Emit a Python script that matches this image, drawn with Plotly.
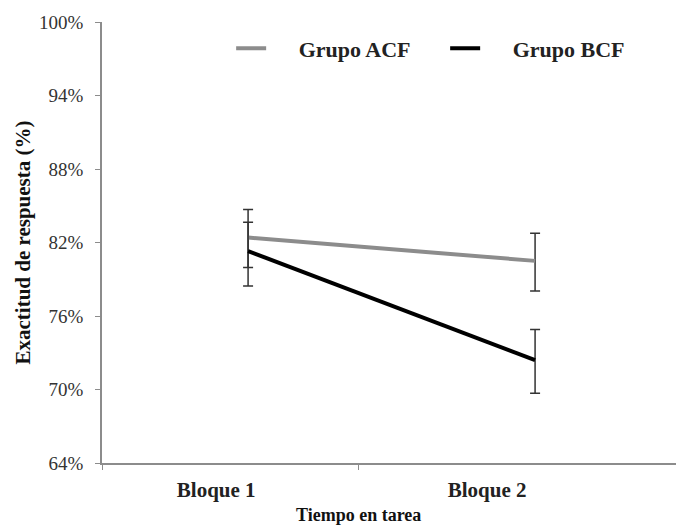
import plotly.graph_objects as go

categories = ["Bloque 1", "Bloque 2"]
x_pos = [1, 2]
acf_vals = [82.4, 80.5]
acf_err_plus = [2.3, 2.25]
acf_err_minus = [2.45, 2.45]
bcf_vals = [81.3, 72.4]
bcf_err_plus = [2.35, 2.5]
bcf_err_minus = [2.85, 2.7]
y_ticks = [64, 70, 76, 82, 88, 94, 100]
y_tick_labels = ["%d%%" % v for v in y_ticks]
label_pos = [0.889, 1.833]
minor_marks = [0.491, 1.383]

font = "Liberation Serif"
pad = "&nbsp;" * 5
fig = go.Figure()
fig.add_trace(go.Scatter(
    x=x_pos, y=acf_vals, mode="lines", name=pad + "<b>Grupo ACF</b>",
    line=dict(color="#8c8c8c", width=4),
    error_y=dict(type="data", symmetric=False, array=acf_err_plus, arrayminus=acf_err_minus,
                 color="#333333", thickness=1.5, width=5),
))
fig.add_trace(go.Scatter(
    x=x_pos, y=bcf_vals, mode="lines", name=pad + "<b>Grupo BCF</b>",
    line=dict(color="#000000", width=4),
    error_y=dict(type="data", symmetric=False, array=bcf_err_plus, arrayminus=bcf_err_minus,
                 color="#333333", thickness=1.5, width=5),
))
fig.add_annotation(
    x=minor_marks[1], xref="x", y=-0.118, yref="paper", yanchor="middle",
    text="<b>Tiempo en tarea</b>", showarrow=False,
    font=dict(family=font, size=18, color="#111"),
)
fig.update_layout(
    width=676, height=526,
    margin=dict(l=102, r=0, t=22, b=63, autoexpand=False),
    paper_bgcolor="white", plot_bgcolor="white",
    font=dict(family=font, color="#000"),
    showlegend=True,
    legend=dict(orientation="h", x=0.225, y=0.94, xanchor="left", yanchor="middle",
                font=dict(family=font, size=22, color="#222"),
                entrywidth=169, entrywidthmode="pixels",
                bgcolor="rgba(0,0,0,0)"),
    xaxis=dict(
        range=[0.491, 2.491], showgrid=False, zeroline=False,
        showline=True, linecolor="#8c8c8c", linewidth=1.5,
        tickvals=label_pos, ticktext=["<b>%s</b>" % c for c in categories],
        ticks="", tickfont=dict(family=font, size=21, color="#222"), ticklabelstandoff=7,
        minor=dict(tickvals=minor_marks, ticks="outside", ticklen=5, tickcolor="#8c8c8c", tickwidth=1),
    ),
    yaxis=dict(
        range=[64, 100], tickvals=y_ticks, ticktext=y_tick_labels, showgrid=False, zeroline=False,
        showline=True, linecolor="#8c8c8c", linewidth=1.5,
        ticks="outside", ticklen=5, tickcolor="#8c8c8c", tickwidth=1,
        tickfont=dict(family=font, size=19, color="#333"), ticklabelstandoff=8,
        title=dict(text="<b>Exactitud de respuesta (%)</b>", font=dict(family=font, size=21, color="#111"), standoff=3),
    ),
)
fig.write_html("out.html", config={"displayModeBar": False},
               post_script="document.body.style.margin='0';")
